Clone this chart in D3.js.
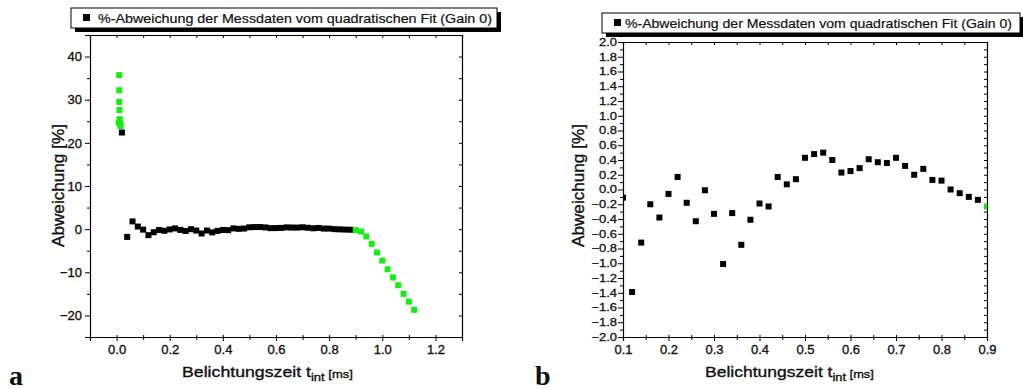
<!DOCTYPE html>
<html>
<head>
<meta charset="utf-8">
<script src="https://cdn.jsdelivr.net/npm/d3@7"></script>
<style>
  body { margin: 0; background: #fff; }
  svg text { font-family: "Liberation Sans", Arial, sans-serif; fill: #111; }
</style>
</head>
<body>
<svg id="chart" width="1023" height="390"></svg>
<script>
// data (t in ms, deviation in %)
var earlyGreenT   = [0.010, 0.010, 0.010, 0.011, 0.012, 0.008, 0.014, 0.015];
var earlyGreenDev = [35.7, 32.2, 29.5, 27.6, 25.5, 24.7, 24.3, 23.9];

var blackT   = [0.02, 0.04, 0.06, 0.08, 0.10, 0.12, 0.14, 0.16, 0.18, 0.20, 0.22, 0.24, 0.26, 0.28,
                0.30, 0.32, 0.34, 0.36, 0.38, 0.40, 0.42, 0.44, 0.46, 0.48, 0.50, 0.52, 0.54, 0.56,
                0.58, 0.60, 0.62, 0.64, 0.66, 0.68, 0.70, 0.72, 0.74, 0.76, 0.78, 0.80, 0.82, 0.84,
                0.86, 0.88];
var blackDev = [22.4, -1.8, 1.8, 0.6, -0.11, -1.39, -0.72, -0.2, -0.38, -0.06, 0.17, -0.18, -0.43, -0.01,
                -0.33, -1.01, -0.32, -0.75, -0.41, -0.19, -0.23, 0.17, 0.07, 0.14, 0.43, 0.48, 0.5, 0.4,
                0.23, 0.25, 0.29, 0.41, 0.37, 0.36, 0.43, 0.32, 0.2, 0.28, 0.13, 0.12, 0.0, -0.05,
                -0.1, -0.14];

var tailT   = [0.90, 0.92, 0.94, 0.96, 0.98, 1.00, 1.02, 1.04, 1.06, 1.08, 1.10, 1.12];
var tailDev = [-0.23, -0.55, -1.7, -3.4, -5.4, -7.3, -9.3, -11.2, -13.0, -15.0, -16.8, -18.7];

var legendText = "%-Abweichung der Messdaten vom quadratischen Fit (Gain 0)";
var yTitle = "Abweichung [%]";

var ticksA_x = d3.range(-1, 14).map(d => d / 10);
var labelsA_x = [0.0, 0.2, 0.4, 0.6, 0.8, 1.0, 1.2];
var ticksA_y = d3.range(-25, 46, 5);
var labelsA_y = [-20, -10, 0, 10, 20, 30, 40];
var ticksB_x = d3.range(2, 19).map(d => d / 20);
var labelsB_x = [0.1, 0.2, 0.3, 0.4, 0.5, 0.6, 0.7, 0.8, 0.9];
var ticksB_y = d3.range(-20, 21).map(d => d / 10);
var labelsB_y = d3.range(-10, 11).map(d => d / 5);

const GREEN = "#14ee14";
var svg = d3.select("#chart");

function pts(ts, vs) { return ts.map((t, i) => ({t: t, v: vs[i]})); }

function near(list, v) { return list.some(l => Math.abs(l - v) < 1e-9); }

function drawPanel(p) {
  var x = d3.scaleLinear().domain(p.xd).range([p.left, p.right]);
  var y = d3.scaleLinear().domain(p.yd).range([p.bottom, p.top]);
  var g = svg.append("g");

  // axes
  var bottom = d3.axisBottom(x).tickValues(p.tx).tickSizeOuter(0)
      .tickFormat(d => near(p.lx, d) ? d3.format(".1f")(d) : "")
      .tickSize(4).tickPadding(4);
  var gb = g.append("g").attr("transform", "translate(0," + p.bottom + ")").call(bottom);
  gb.selectAll(".tick line").attr("y2", d => near(p.lx, d) ? 4 : 3).attr("y1", -2);

  var left = d3.axisLeft(y).tickValues(p.ty).tickSizeOuter(0)
      .tickFormat(d => near(p.ly, d) ? p.yfmt(d) : "")
      .tickSize(5).tickPadding(p.ypad);
  var gl = g.append("g").attr("transform", "translate(" + p.left + ",0)").call(left);
  gl.selectAll(".tick line").attr("x2", d => near(p.ly, d) ? -5 : -3);

  var top = d3.axisBottom(x).tickValues(p.tx).tickSizeOuter(0).tickFormat("").tickSize(3);
  g.append("g").attr("transform", "translate(0," + p.top + ")").call(top);
  var right = d3.axisLeft(y).tickValues(p.ty).tickSizeOuter(0).tickFormat("").tickSize(3);
  g.append("g").attr("transform", "translate(" + p.right + ",0)").call(right);

  g.selectAll(".domain").attr("stroke", "#000").attr("stroke-width", 1.2);
  g.selectAll(".tick line").attr("stroke", "#000");
  g.selectAll(".tick text").attr("font-size", 13).style("font-family", "Liberation Sans, Arial, sans-serif")
    .attr("fill", "#111").attr("stroke", "#111").attr("stroke-width", 0.35);
  if (p.ysquash) gl.selectAll(".tick text").attr("transform", "scale(1," + p.ysquash + ")");

  // points
  var clipId = "clip" + p.name;
  svg.append("clipPath").attr("id", clipId).append("rect")
    .attr("x", p.left).attr("y", p.top).attr("width", p.right - p.left).attr("height", p.bottom - p.top);
  var marks = g.append("g").attr("clip-path", "url(#" + clipId + ")");
  p.series.forEach(s => {
    marks.selectAll(null).data(s.data).enter().append("rect")
      .attr("x", d => x(d.t) - 3).attr("y", d => y(d.v) - 3)
      .attr("width", 6).attr("height", 6).attr("fill", s.color);
  });

  // legend
  var lg = p.legend;
  svg.append("rect").attr("x", lg.x + 4).attr("y", lg.y + 4).attr("width", lg.w).attr("height", lg.h).attr("fill", "#000");
  svg.append("rect").attr("x", lg.x).attr("y", lg.y).attr("width", lg.w).attr("height", lg.h)
    .attr("fill", "#fff").attr("stroke", "#000").attr("stroke-width", 1);
  svg.append("rect").attr("x", lg.x + 12).attr("y", lg.y + 6).attr("width", 7).attr("height", 7).attr("fill", "#000");
  svg.append("text").attr("x", lg.tx).attr("y", lg.y + 15).attr("font-size", 13)
    .attr("stroke", "#111").attr("stroke-width", 0.2)
    .attr("textLength", lg.tw).attr("lengthAdjust", "spacingAndGlyphs").text(legendText);

  // x title with subscript
  var xt = svg.append("text").attr("font-size", 15).attr("stroke", "#111").attr("stroke-width", 0.35);
  xt.append("tspan").text("Belichtungszeit t");
  xt.append("tspan").attr("font-size", 11).attr("dy", 4).text("int");
  xt.append("tspan").attr("font-size", 11).attr("dy", -3).text(" [ms]");
  var w = xt.node().getBBox().width;
  xt.attr("transform", "translate(" + p.xtitle.x + "," + p.xtitle.y + ") scale(" + (p.xtitle.w / w) + ",1)");

  // y title
  var yt = svg.append("text").attr("font-size", 16).attr("stroke", "#111").attr("stroke-width", 0.35).text(yTitle);
  var wy = yt.node().getBBox().width;
  yt.attr("transform", "translate(" + p.ytitle.x + "," + p.ytitle.y + ") rotate(-90) scale(" + (p.ytitle.w / wy) + ",1)");

  // panel letter
  svg.append("text").attr("x", p.letter.x).attr("y", 385)
    .style("font-family", "Liberation Serif, serif").attr("font-weight", "bold")
    .attr("font-size", 28).attr("fill", "#000").text(p.letter.s);
}

var black = pts(blackT, blackDev);

drawPanel({
  name: "A", xd: [-0.1, 1.3], yd: [-25, 45], left: 90, right: 462, top: 35, bottom: 337,
  tx: ticksA_x, lx: labelsA_x, ty: ticksA_y, ly: labelsA_y, yfmt: d3.format("d"), ypad: 3,
  series: [
    {color: GREEN, data: pts(earlyGreenT, earlyGreenDev)},
    {color: "#000", data: black},
    {color: GREEN, data: pts(tailT, tailDev)}
  ],
  legend: {x: 71, y: 8, w: 426, h: 20, tx: 98, tw: 394},
  xtitle: {x: 182, y: 377, w: 171},
  ytitle: {x: 64, y: 247, w: 123},
  letter: {x: 9, s: "a"}
});

drawPanel({
  name: "B", xd: [0.1, 0.9], yd: [-2, 2], left: 623, right: 987, top: 42, bottom: 337,
  tx: ticksB_x, lx: labelsB_x, ty: ticksB_y, ly: labelsB_y, yfmt: d3.format(".1f"), ypad: 1, ysquash: 0.8,
  series: [
    {color: "#000", data: black.filter(d => d.t >= 0.099)},
    {color: GREEN, data: pts(tailT, tailDev)}
  ],
  legend: {x: 602, y: 13, w: 418, h: 20, tx: 625, tw: 387},
  xtitle: {x: 705, y: 377, w: 169},
  ytitle: {x: 584, y: 247, w: 123},
  letter: {x: 535, s: "b"}
});
</script>
</body>
</html>
